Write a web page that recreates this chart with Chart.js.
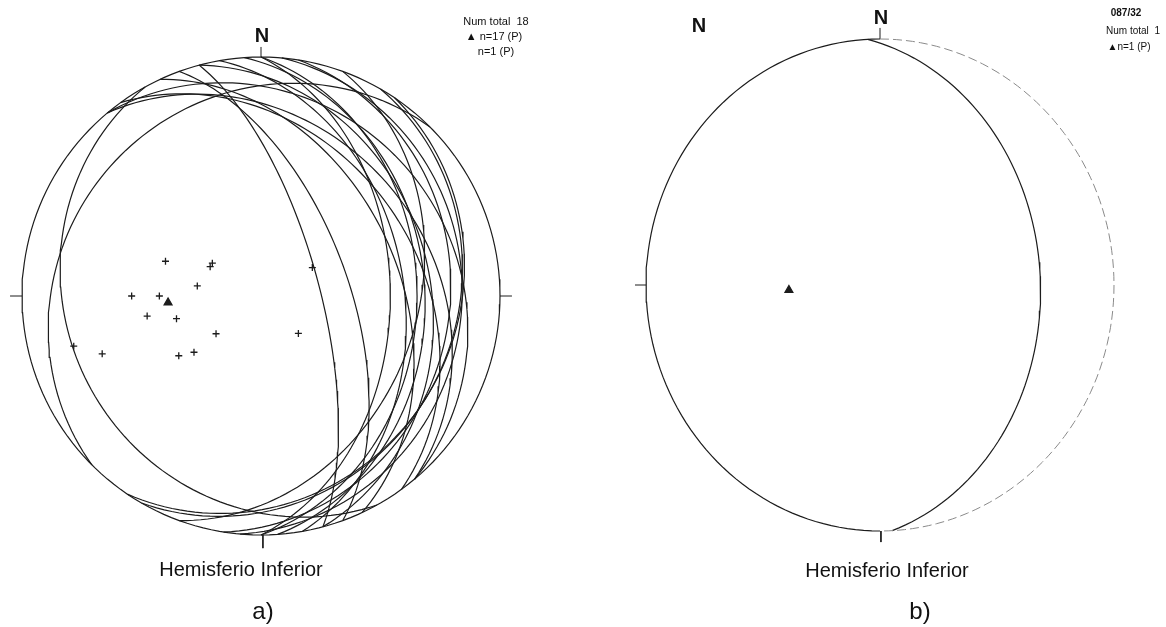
<!DOCTYPE html>
<html>
<head>
<meta charset="utf-8">
<script src="https://cdn.jsdelivr.net/npm/chart.js@4.4.0/dist/chart.umd.min.js"></script>
<style>
  body { margin: 0; background: #fff; font-family: "Liberation Sans", Arial, sans-serif; color: #111; }
  #page { position: relative; width: 1166px; height: 627px; overflow: hidden; }
  canvas { position: absolute; top: 0; }
  .lbl { position: absolute; white-space: pre; line-height: 1; transform: translate(-50%, -50%); }
</style>
</head>
<body>
<div id="page">
  <canvas id="netA" width="560" height="627" style="left:0"></canvas>
  <canvas id="netB" width="586" height="627" style="left:580px"></canvas>

  <div class="lbl" style="left:262px;top:35px;font-size:20px;font-weight:bold">N</div>
  <div class="lbl" style="left:496px;top:21px;font-size:11px">Num total  18</div>
  <div class="lbl" style="left:494px;top:36px;font-size:11px">▲ n=17 (P)</div>
  <div class="lbl" style="left:496px;top:51px;font-size:11px">n=1 (P)</div>
  <div class="lbl" style="left:241px;top:569px;font-size:20px">Hemisferio Inferior</div>
  <div class="lbl" style="left:263px;top:611px;font-size:24px">a)</div>

  <div class="lbl" style="left:699px;top:25px;font-size:20px;font-weight:bold">N</div>
  <div class="lbl" style="left:881px;top:17px;font-size:20px;font-weight:bold">N</div>
  <div class="lbl" style="left:1126px;top:13px;font-size:10px;font-weight:bold">087/32</div>
  <div class="lbl" style="left:1133px;top:31px;font-size:10px">Num total  1</div>
  <div class="lbl" style="left:1129px;top:47px;font-size:10px">▲n=1 (P)</div>
  <div class="lbl" style="left:887px;top:570px;font-size:20px">Hemisferio Inferior</div>
  <div class="lbl" style="left:920px;top:611px;font-size:24px">b)</div>
</div>

<script>
// --- Panel a: planes (dip direction / dip, degrees) ---
const planeDipDirA = [110, 124, 120, 99, 90, 90, 80, 75, 50, 315, 70, 54, 50, 241, 75, 86, 95, 65];
const planeDipA    = [35, 20, 20, 22, 45, 35, 40, 30, 20, 18, 60, 35, 30, 20, 70, 32, 17, 42];

// poles plotted as crosses (trend / plunge)
const poleTrendA  = [290, 304, 300, 279, 270, 270, 260, 255, 230, 135, 250, 234, 230, 61, 255];
const polePlungeA = [55, 70, 70, 68, 45, 55, 50, 60, 70, 72, 30, 55, 60, 70, 20];

// pole marked with a triangle
const triTrendA  = [266];
const triPlungeA = [58];

// --- Panel b: single plane 087/32 and its pole ---
const planeDipDirB = [87];
const planeDipB    = [32];
const triTrendB  = [267];
const triPlungeB = [58];

const D = Math.PI / 180;
const INK = '#1c1c1c';

// Schmidt (equal-area) lower hemisphere, unit radius
function project(trend, plunge) {
  const r = Math.SQRT2 * Math.sin((90 - plunge) * D / 2);
  return { x: r * Math.sin(trend * D), y: r * Math.cos(trend * D) };
}

function greatCircle(dd, dip) {
  const pts = [];
  const s = (dd - 90) * D, d = dd * D, k = dip * D;
  for (let a = 0; a <= 180; a += 2) {
    const ca = Math.cos(a * D), sa = Math.sin(a * D);
    const e = ca * Math.sin(s) + sa * Math.sin(d) * Math.cos(k);
    const n = ca * Math.cos(s) + sa * Math.cos(d) * Math.cos(k);
    const z = sa * Math.sin(k);
    pts.push(project(Math.atan2(e, n) / D, Math.asin(Math.min(1, z)) / D));
  }
  return pts;
}

function primitive(from, to) {
  const pts = [];
  for (let t = from; t <= to; t += 2) pts.push(project(t, 0));
  return pts;
}

function lineSet(data, extra) {
  return Object.assign({
    data, showLine: true, pointRadius: 0, borderColor: INK, borderWidth: 1.2,
    tension: 0, fill: false, clip: false
  }, extra || {});
}

function pointSet(trends, plunges, style, radius) {
  return {
    data: trends.map((t, i) => project(t, plunges[i])),
    showLine: false, pointStyle: style, pointRadius: radius,
    borderColor: INK, backgroundColor: INK, borderWidth: 1.3, clip: false
  };
}

function tick(x1, y1, x2, y2) {
  return lineSet([{ x: x1, y: y1 }, { x: x2, y: y2 }], { borderWidth: 1 });
}

function netOptions(padding) {
  return {
    responsive: false,
    animation: false,
    events: [],
    layout: { padding },
    plugins: { legend: { display: false }, tooltip: { enabled: false } },
    scales: {
      x: { type: 'linear', min: -1, max: 1, display: false },
      y: { type: 'linear', min: -1, max: 1, display: false }
    }
  };
}

// Panel a
const setsA = [
  lineSet(primitive(0, 360)),
  tick(0, 1, 0, 1.042), tick(-1, 0, -1.05, 0), tick(1, 0, 1.05, 0), tick(0.008, -1, 0.008, -1.055),
  pointSet(poleTrendA, polePlungeA, 'cross', 3.5),
  pointSet(triTrendA, triPlungeA, 'triangle', 4.5)
];
planeDipDirA.forEach((dd, i) => setsA.push(lineSet(greatCircle(dd, planeDipA[i]))));

new Chart(document.getElementById('netA'), {
  type: 'scatter',
  data: { datasets: setsA },
  options: netOptions({ left: 22, right: 60, top: 57, bottom: 92 })
});

// Panel b: east half of the primitive is faint
const setsB = [
  lineSet(primitive(180, 360)),
  lineSet(primitive(0, 180), { borderColor: '#8a8a8a', borderWidth: 1, borderDash: [9, 4] }),
  tick(0, 1, 0, 1.045), tick(-1, 0, -1.047, 0), tick(0.004, -1, 0.004, -1.045),
  pointSet(triTrendB, triPlungeB, 'triangle', 4.5)
];
planeDipDirB.forEach((dd, i) => setsB.push(lineSet(greatCircle(dd, planeDipB[i]))));

new Chart(document.getElementById('netB'), {
  type: 'scatter',
  data: { datasets: setsB },
  options: netOptions({ left: 66, right: 52, top: 39, bottom: 96 })
});
</script>
</body>
</html>
